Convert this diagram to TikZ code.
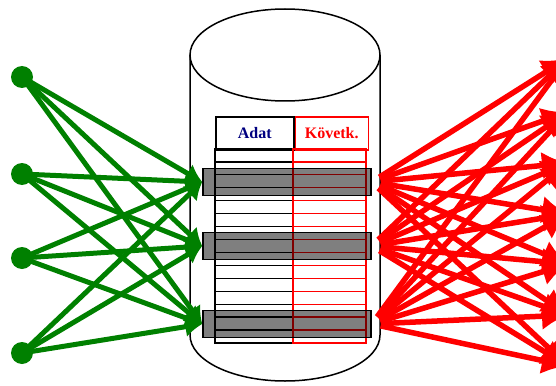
\documentclass[tikz,border=0pt]{standalone}
\usepackage{fontspec}
\setmainfont{Liberation Serif}
\usetikzlibrary{arrows.meta}
\usetikzlibrary{positioning}

\begin{document}
\begin{tikzpicture}[x=1pt,y=-1pt,
    srcdot/.style={circle,fill=arrowgreen,inner sep=0pt,minimum size=22pt},
    recbar/.style={draw=black,line width=1.5pt,fill=black,fill opacity=0.5,minimum width=168pt,minimum height=27pt,inner sep=0pt},
    headcell/.style={draw,line width=1.5pt,anchor=north west,minimum height=33pt,inner sep=0pt,font=\fontsize{16}{19}\selectfont\bfseries},
    inarrow/.style={-{Latex[length=17pt,width=21pt]},line width=5pt,arrowgreen},
    outarrow/.style={-{Latex[length=26pt,width=28pt]},line width=5.5pt,red,shorten <=9pt}]

		    \definecolor{arrowgreen}{rgb}{0.00,0.50,0.00}
		    \definecolor{headblue}{rgb}{0.00,0.00,0.50}
		    \useasboundingbox (0,0) rectangle (556,385);

		    % the store
		    \draw[line width=1.5pt,fill=white] (190,55) -- (190,335) arc[start angle=180,end angle=0,x radius=95,y radius=46] -- (380,55);
		    \draw[line width=1.5pt] (285,55) ellipse[x radius=95,y radius=46];

		    \node(adat) [headcell,minimum width=78pt,text=headblue] at (215,116) {Adat};
		    \node(kovetk) [headcell,right=0pt of adat,draw=red,minimum width=73pt,text=red] {Követk.};
		    \foreach \r in {0,...,14} {
		        \draw[line width=1.2pt] ({215},{149+\r*12.93}) rectangle ({293},{149+(\r+1)*12.93});
		        \draw[line width=1.2pt,red] ({293},{149+\r*12.93}) rectangle ({366},{149+(\r+1)*12.93});
		    }

		    \node(bar1) [recbar] at (287,182) {};
		    \node(bar2) [recbar] at (287,246) {};
		    \node(bar3) [recbar] at (287,324) {};

		    \node(src1) [srcdot] at (22,77) {};
		    \node(src2) [srcdot] at (22,174) {};
		    \node(src3) [srcdot] at (22,258) {};
		    \node(src4) [srcdot] at (22,353) {};

		    \coordinate(tgt1) at (568,58);
		    \coordinate(tgt2) at (568,112);
		    \coordinate(tgt3) at (568,163);
		    \coordinate(tgt4) at (568,214);
		    \coordinate(tgt5) at (568,264);
		    \coordinate(tgt6) at (568,315);
		    \coordinate(tgt7) at (568,366);

		    \foreach \s in {1,...,4}
		        \foreach \b in {1,2,3}
		            \draw[inarrow] (src\s.center) -- (bar\b.west);
		    \foreach \b in {1,2,3}
		        \foreach \t in {1,...,7}
		            \draw[outarrow] (bar\b.east) -- (tgt\t);

\end{tikzpicture}
\end{document}
